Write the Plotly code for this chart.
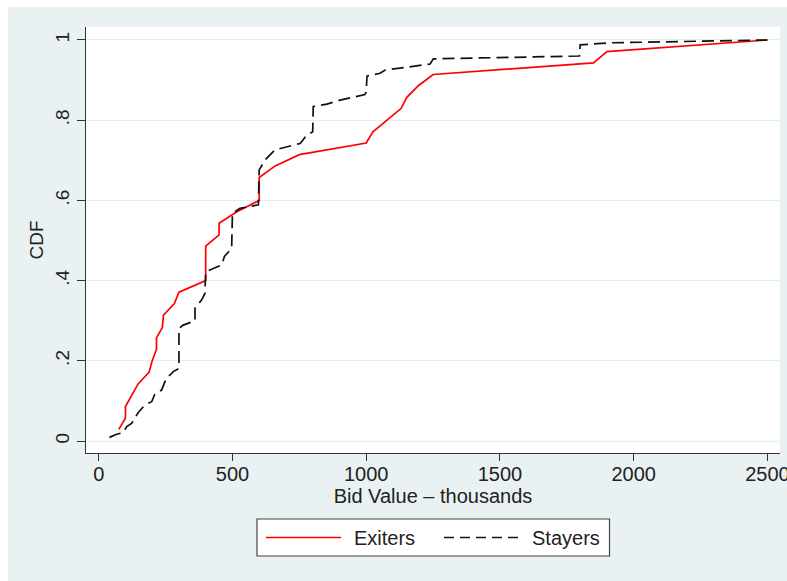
import plotly.graph_objects as go

# Empirical CDF of bid values (thousands), by group
exiters_x = [75, 100, 100, 148, 188, 200, 216, 216, 238, 242, 283, 300, 400, 400,
             450, 450, 515, 600, 600, 660, 750, 1000, 1025, 1130, 1152, 1195, 1250,
             1850, 1900, 2500]
exiters_y = [0.029, 0.057, 0.086, 0.143, 0.171, 0.200, 0.229, 0.257, 0.283, 0.314,
             0.343, 0.371, 0.400, 0.486, 0.514, 0.543, 0.571, 0.600, 0.657, 0.686,
             0.714, 0.743, 0.771, 0.829, 0.857, 0.886, 0.914, 0.943, 0.971, 1.0]

stayers_x = [40, 67, 92, 105, 123, 148, 173, 198, 210, 235, 252, 279, 300, 300, 316,
             360, 360, 385, 397, 400, 460, 470, 491, 497, 500, 528, 597, 600, 622, 659,
             753, 778, 800, 802, 853, 902, 950, 995, 1000, 1003, 1052, 1071, 1239,
             1251, 1797, 1800, 1912, 2500]
stayers_y = [0.009, 0.017, 0.021, 0.036, 0.044, 0.071, 0.090, 0.098, 0.117, 0.127,
             0.155, 0.173, 0.181, 0.281, 0.289, 0.300, 0.331, 0.352, 0.368, 0.422,
             0.439, 0.460, 0.476, 0.480, 0.568, 0.580, 0.589, 0.676, 0.701, 0.726,
             0.742, 0.763, 0.771, 0.834, 0.840, 0.850, 0.857, 0.864, 0.870, 0.910,
             0.917, 0.925, 0.940, 0.953, 0.960, 0.988, 0.993, 1.0]

y_ticks = [0, 0.2, 0.4, 0.6, 0.8, 1]
y_tick_text = ["0", ".2", ".4", ".6", ".8", "1"]
x_ticks = [0, 500, 1000, 1500, 2000, 2500]
series_names = ["Exiters", "Stayers"]

W, H = 787, 581
ML, MR, MT, MB = 86, 7, 27, 128
PW, PH = W - ML - MR, H - MT - MB
FONT = "Liberation Sans, Arial, sans-serif"
BG = "#e9f1f3"
INK = "#222222"


def px_x(px):
    return (px - ML) / PW


def px_y(py):
    return (H - MB - py) / PH


fig = go.Figure()
fig.add_trace(go.Scatter(x=exiters_x, y=exiters_y, mode="lines", name=series_names[0],
                         line=dict(color="#ff0000", width=1.7), showlegend=False))
fig.add_trace(go.Scatter(x=stayers_x, y=stayers_y, mode="lines", name=series_names[1],
                         line=dict(color="#111111", width=1.7, dash="12px,6px"),
                         showlegend=False))

shapes = [
    # white strips at the page's left and top edges
    dict(type="rect", xref="paper", yref="paper", x0=px_x(0), x1=px_x(8),
         y0=px_y(H), y1=px_y(0), fillcolor="white", line_width=0, layer="above"),
    dict(type="rect", xref="paper", yref="paper", x0=px_x(0), x1=px_x(W),
         y0=px_y(7), y1=px_y(0), fillcolor="white", line_width=0, layer="above"),
    # legend box
    dict(type="rect", xref="paper", yref="paper", x0=px_x(257), x1=px_x(609.5),
         y0=px_y(556), y1=px_y(519), fillcolor="white",
         line=dict(color="#444444", width=1.2), layer="above"),
    dict(type="line", xref="paper", yref="paper", x0=px_x(266), x1=px_x(341),
         y0=px_y(537.5), y1=px_y(537.5), line=dict(color="#ff0000", width=1.7),
         layer="above"),
    dict(type="line", xref="paper", yref="paper", x0=px_x(444), x1=px_x(518),
         y0=px_y(537.5), y1=px_y(537.5),
         line=dict(color="#111111", width=1.7, dash="10px,6px"), layer="above"),
]

annotations = [
    dict(text=series_names[0], xref="paper", yref="paper", x=px_x(352), y=px_y(537.5),
         xanchor="left", yanchor="middle", showarrow=False,
         font=dict(family=FONT, size=20, color=INK)),
    dict(text=series_names[1], xref="paper", yref="paper", x=px_x(530), y=px_y(537.5),
         xanchor="left", yanchor="middle", showarrow=False,
         font=dict(family=FONT, size=20, color=INK)),
]

fig.update_layout(
    width=W, height=H,
    margin=dict(l=ML, r=MR, t=MT, b=MB, pad=0, autoexpand=False),
    paper_bgcolor=BG, plot_bgcolor="white",
    font=dict(family=FONT, size=19, color=INK),
    shapes=shapes, annotations=annotations,
    showlegend=False,
    xaxis=dict(
        range=[-47.5, 2547], tickmode="array", tickvals=x_ticks,
        ticks="outside", ticklen=7, tickcolor="#333333", tickwidth=1,
        showline=True, linecolor="#333333", linewidth=1.2, mirror=False,
        showgrid=False, zeroline=False, ticklabeloverflow="allow",
        ticklabelstandoff=-4,
        automargin=False,
        tickfont=dict(family=FONT, size=20, color=INK),
        title=dict(text="Bid Value \u2013 thousands", standoff=4,
                   font=dict(family=FONT, size=20, color=INK)),
    ),
    yaxis=dict(
        range=[-0.0299, 1.0324], tickmode="array", tickvals=y_ticks,
        ticktext=y_tick_text, tickangle=-90,
        ticks="outside", ticklen=8, tickcolor="#333333", tickwidth=1,
        showline=True, linecolor="#333333", linewidth=1.2, mirror=False,
        showgrid=True, gridcolor="#e6eef1", gridwidth=1.2, zeroline=False,
        automargin=False,
        tickfont=dict(family=FONT, size=19, color=INK),
        title=dict(text="CDF", standoff=3,
                   font=dict(family=FONT, size=19, color=INK)),
    ),
)

fig.write_html("out.html")
